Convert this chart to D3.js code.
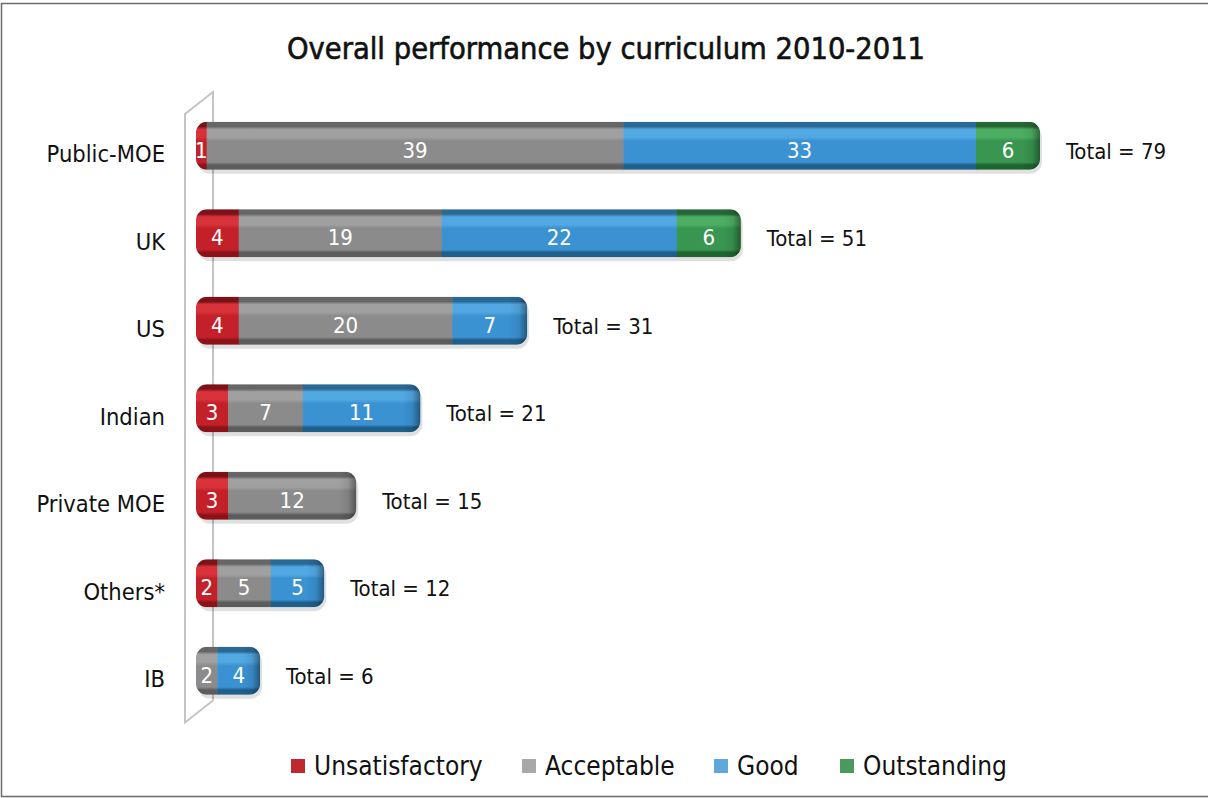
<!DOCTYPE html>
<html>
<head>
<meta charset="utf-8">
<script src="https://cdn.jsdelivr.net/npm/d3@7"></script>
<style>
  body { margin: 0; background: #fff; }
  svg { display: block; font-family: "DejaVu Sans Condensed", "Liberation Sans Narrow", sans-serif; }
</style>
</head>
<body>
<div id="chart"></div>
<script>
// values
var categories = ['Public-MOE', 'UK', 'US', 'Indian', 'Private MOE', 'Others*', 'IB'];
var unsatisfactory = [1, 4, 4, 3, 3, 2, 0];
var acceptable     = [39, 19, 20, 7, 12, 5, 2];
var good           = [33, 22, 7, 11, 0, 5, 4];
var outstanding    = [6, 6, 0, 0, 0, 0, 0];
var seriesNames = ['Unsatisfactory', 'Acceptable', 'Good', 'Outstanding'];

var width = 1208, height = 798;

var palette = {
    Unsatisfactory: ['#7c1218', '#d8333a', '#c42029', '#8c1219'],
    Acceptable:     ['#666666', '#a0a0a0', '#8b8b8b', '#5c5c5c'],
    Good:           ['#2a6896', '#52a8e2', '#3a92d2', '#1f5f8c'],
    Outstanding:    ['#276637', '#4cae62', '#399650', '#1e6530']
};
var legendColor = {
    Unsatisfactory: '#c0282f', Acceptable: '#a8a8a8', Good: '#5fa8dc', Outstanding: '#4a9a5e'
};

var rows = categories.map(function(c, i) {
    var vals = [unsatisfactory[i], acceptable[i], good[i], outstanding[i]];
    var x0 = 0;
    var segs = vals.map(function(v, j) {
        var s = { key: seriesNames[j], value: v, x0: x0, x1: x0 + v, row: c };
        x0 += v;
        return s;
    });
    return { name: c, segs: segs, total: x0 };
});

var svg = d3.select('#chart').append('svg')
    .attr('width', width)
    .attr('height', height);

var defs = svg.append('defs');
seriesNames.forEach(function(k) {
    var c = palette[k];
    var g = defs.append('linearGradient')
        .attr('id', 'grad_' + k)
        .attr('x1', 0).attr('y1', 0).attr('x2', 0).attr('y2', 1);
    [[0, c[0]], [0.1, c[0]], [0.16, c[1]], [0.32, c[1]], [0.4, c[2]], [0.84, c[2]], [0.9, c[3]], [1, c[3]]]
        .forEach(function(s) {
            g.append('stop').attr('offset', s[0]).attr('stop-color', s[1]);
        });
});

var capGrad = defs.append('linearGradient')
    .attr('id', 'cap')
    .attr('x1', 0).attr('y1', 0).attr('x2', 1).attr('y2', 0);
capGrad.append('stop').attr('offset', 0).attr('stop-color', '#000').attr('stop-opacity', 0);
capGrad.append('stop').attr('offset', 0.55).attr('stop-color', '#000').attr('stop-opacity', 0.08);
capGrad.append('stop').attr('offset', 1).attr('stop-color', '#000').attr('stop-opacity', 0.4);

// frame
svg.append('rect')
    .attr('x', 1.5).attr('y', 3.5)
    .attr('width', width + 10).attr('height', 793)
    .attr('fill', 'none')
    .attr('stroke', '#6a6a6a')
    .attr('stroke-width', 1.5);

svg.append('text')
    .attr('x', 606)
    .attr('y', 59)
    .attr('text-anchor', 'middle')
    .attr('font-size', 30.5)
    .attr('fill', '#111')
    .attr('stroke', '#111')
    .attr('stroke-width', 0.6)
    .text('Overall performance by curriculum 2010-2011');

var x = d3.scaleLinear().domain([0, 79]).range([196, 1040]);
var y = d3.scaleBand()
    .domain(categories)
    .range([102, 714.5])
    .paddingInner(0.45)
    .paddingOuter(0.225);

// thin 3d back wall of the category axis
var wallX = x(0) - 11, depth = 28, wallTop = y.range()[0] + 12, wallBottom = y.range()[1] + 8;
svg.append('path')
    .attr('d', 'M' + (wallX + depth) + ',' + (wallBottom - 22) + 'L' + wallX + ',' + wallBottom +
        'L' + wallX + ',' + wallTop + 'L' + (wallX + depth) + ',' + (wallTop - 22) +
        'L' + (wallX + depth) + ',' + (wallBottom - 22))
    .attr('fill', 'none')
    .attr('stroke', '#c4c4c4')
    .attr('stroke-width', 2);

// category labels
svg.append('g').selectAll('text')
    .data(categories)
    .join('text')
    .attr('x', 165)
    .attr('y', function(d) { return y(d) + y.bandwidth() / 2 + 10; })
    .attr('text-anchor', 'end')
    .attr('dominant-baseline', 'middle')
    .attr('font-size', 23.5)
    .attr('fill', '#111')
    .text(function(d) { return d; });

var bars = svg.append('g').selectAll('g.bar')
    .data(rows)
    .join('g')
    .attr('class', 'bar');

// soft shadow under each bar
bars.append('rect')
    .attr('x', x(0) + 2)
    .attr('y', function(d) { return y(d.name) + 4; })
    .attr('width', function(d) { return x(d.total) - x(0); })
    .attr('height', y.bandwidth())
    .attr('rx', 12)
    .attr('fill', '#000')
    .attr('opacity', 0.12);

bars.each(function(d, i) {
    defs.append('clipPath')
        .attr('id', 'clip_' + i)
        .append('rect')
        .attr('x', x(0))
        .attr('y', y(d.name))
        .attr('width', x(d.total) - x(0))
        .attr('height', y.bandwidth())
        .attr('rx', 11);
});

var inner = bars.append('g')
    .attr('clip-path', function(d, i) { return 'url(#clip_' + i + ')'; });

inner.selectAll('rect.seg')
    .data(function(d) { return d.segs.filter(function(s) { return s.value > 0; }); })
    .join('rect')
    .attr('class', 'seg')
    .attr('x', function(s) { return x(s.x0); })
    .attr('y', function(s) { return y(s.row); })
    .attr('width', function(s) { return x(s.x1) - x(s.x0) + 0.5; })
    .attr('height', y.bandwidth())
    .attr('fill', function(s) { return 'url(#grad_' + s.key + ')'; });

// darker rounded end of each bar
inner.append('rect')
    .attr('x', function(d) { return x(d.total) - 18; })
    .attr('y', function(d) { return y(d.name); })
    .attr('width', 18)
    .attr('height', y.bandwidth())
    .attr('fill', 'url(#cap)');

// value labels
bars.selectAll('text.val')
    .data(function(d) { return d.segs.filter(function(s) { return s.value > 0; }); })
    .join('text')
    .attr('class', 'val')
    .attr('x', function(s) { return (x(s.x0) + x(s.x1)) / 2; })
    .attr('y', function(s) { return y(s.row) + y.bandwidth() / 2 + 6; })
    .attr('text-anchor', 'middle')
    .attr('dominant-baseline', 'middle')
    .attr('font-size', 22)
    .attr('fill', '#fff')
    .text(function(s) { return s.value; });

// totals
bars.append('text')
    .attr('x', function(d) { return x(d.total) + 26; })
    .attr('y', function(d) { return y(d.name) + y.bandwidth() / 2 + 7; })
    .attr('dominant-baseline', 'middle')
    .attr('font-size', 22)
    .attr('fill', '#111')
    .text(function(d) { return 'Total = ' + d.total; });

// legend
var legendX = [291, 522, 714, 840];
var legend = svg.append('g').selectAll('g')
    .data(seriesNames)
    .join('g')
    .attr('transform', function(d, i) { return 'translate(' + legendX[i] + ',759)'; });

legend.append('rect')
    .attr('width', 14).attr('height', 14)
    .attr('fill', function(d) { return legendColor[d]; });

legend.append('text')
    .attr('x', 23)
    .attr('y', 8)
    .attr('dominant-baseline', 'middle')
    .attr('font-size', 26)
    .attr('fill', '#111')
    .text(function(d) { return d; });
</script>
</body>
</html>
